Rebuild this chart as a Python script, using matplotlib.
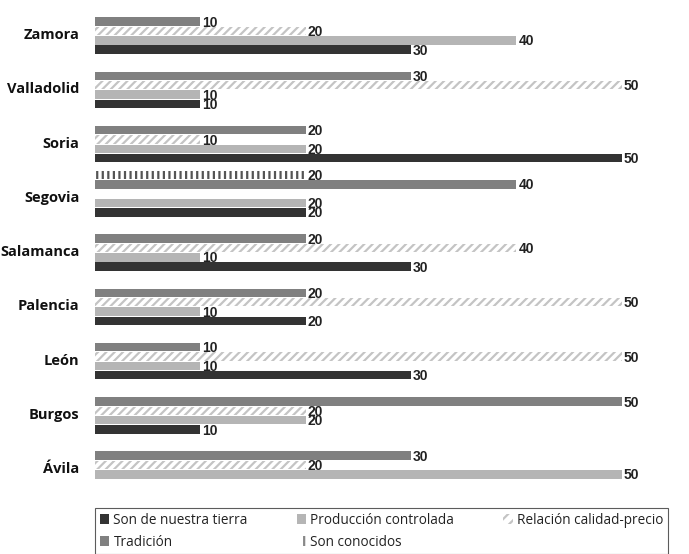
import numpy as np
import matplotlib.pyplot as plt
from matplotlib.patches import Patch

plt.rcParams['hatch.linewidth'] = 1.6

provincias = ['Zamora', 'Valladolid', 'Soria', 'Segovia', 'Salamanca',
              'Palencia', 'León', 'Burgos', 'Ávila']

# porcentaje de respuestas por motivo
tierra = [30, 10, 50, 20, 30, 20, 30, 10, 0]
produccion = [40, 10, 20, 20, 10, 10, 10, 20, 50]
calidad = [20, 50, 10, 0, 40, 50, 50, 20, 20]
tradicion = [10, 30, 20, 40, 20, 20, 10, 50, 30]
conocidos = [0, 0, 0, 20, 0, 0, 0, 0, 0]

fig = plt.figure(figsize=(6.89, 5.54), dpi=100)
ax = fig.add_axes([95 / 689, 54 / 554, 590 / 689, 500 / 554])

y = np.arange(len(provincias))
step = 0.172
h = 0.155

series = [
    (tierra, 2, dict(color='#333333')),
    (produccion, 1, dict(color='#b5b5b5')),
    (calidad, 0, dict(facecolor='white', edgecolor='#c4c4c4', hatch='////', linewidth=0)),
    (tradicion, -1, dict(color='#808080')),
    (conocidos, -2, dict(facecolor='white', edgecolor='#555555', hatch='|||', linewidth=0)),
]

for vals, off, style in series:
    pos = y + off * step
    ax.barh(pos, vals, height=h, **style)
    for p, v in zip(pos, vals):
        if v:
            ax.text(v + 0.2, p + 0.02, str(v), va='center', ha='left',
                    fontsize=10, fontweight='bold', family='Liberation Sans',
                    color='#222222')

ax.set_xlim(0, 56)
ax.set_ylim(8.645, -0.571)
ax.set_yticks(y + 0.05)
ax.set_yticklabels(provincias, fontsize=10.5, fontweight='bold', family='Open Sans',
                   color='#111111')
ax.tick_params(axis='y', length=0, pad=11)
ax.set_xticks([])
for s in ax.spines.values():
    s.set_visible(False)

handles = [
    Patch(facecolor='#333333', label='Son de nuestra tierra'),
    Patch(facecolor='#808080', label='Tradición'),
    Patch(facecolor='#b5b5b5', label='Producción controlada'),
    Patch(facecolor='white', edgecolor='#888888', hatch='||', linewidth=0, label='Son conocidos'),
    Patch(facecolor='white', edgecolor='#c4c4c4', hatch='///', linewidth=0, label='Relación calidad-precio'),
]
leg = fig.legend(handles=handles, ncol=3, loc='upper left',
                 bbox_to_anchor=(95 / 689, 46 / 554), bbox_transform=fig.transFigure,
                 frameon=True, fancybox=False, edgecolor='#333333',
                 prop={'family': 'Open Sans', 'size': 9.8},
                 handlelength=0.7, handleheight=0.7, handletextpad=0.3,
                 columnspacing=3.6, labelspacing=0.5, borderpad=0.35,
                 borderaxespad=0)
leg.get_frame().set_linewidth(0.8)
for t in leg.get_texts():
    t.set_color('#222222')

fig.savefig('out.png', dpi=100)
